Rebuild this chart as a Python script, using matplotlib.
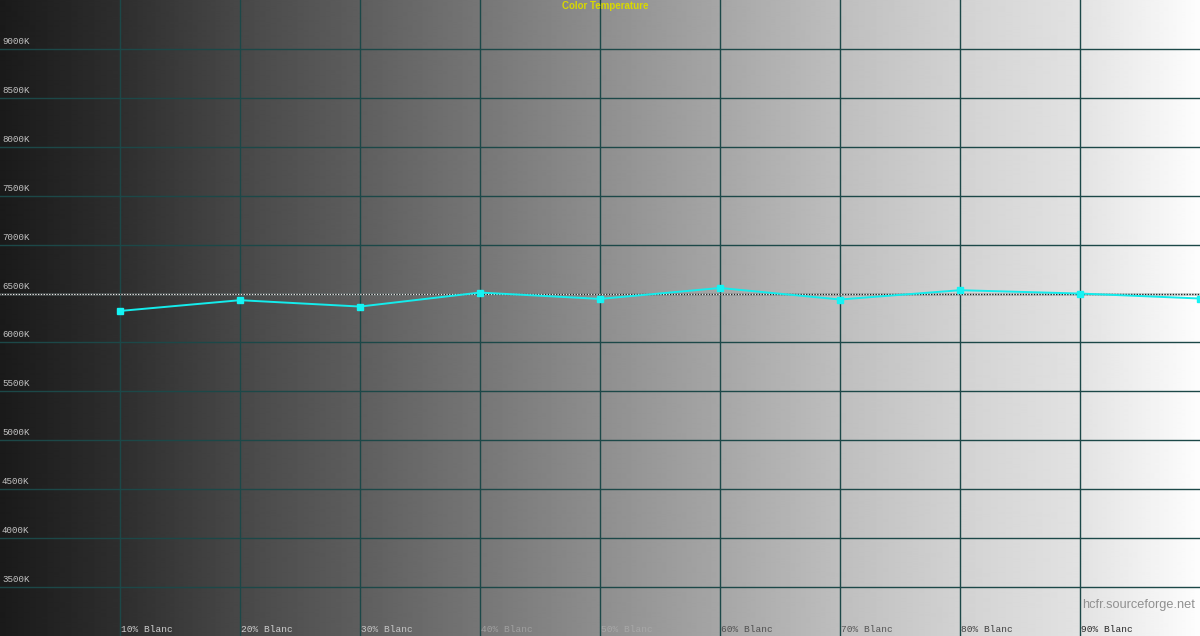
import numpy as np
import matplotlib
matplotlib.use("Agg")
import matplotlib.pyplot as plt

# Data
levels = [10, 20, 30, 40, 50, 60, 70, 80, 90, 100]
temperatures = [6322, 6432, 6367, 6510, 6445, 6557, 6439, 6534, 6500, 6449]
x_tick_labels = ["10% Blanc", "20% Blanc", "30% Blanc", "40% Blanc", "50% Blanc",
                 "60% Blanc", "70% Blanc", "80% Blanc", "90% Blanc"]
y_ticks = [3500, 4000, 4500, 5000, 5500, 6000, 6500, 7000, 7500, 8000, 8500, 9000]
reference_temp = 6500

fig = plt.figure(figsize=(12, 6.36), dpi=100)
ax = fig.add_axes([0, 0, 1, 1])
ax.set_xlim(0, 100)
ax.set_ylim(3000, 9500)
ax.set_axis_off()

# Background gradient
stops_x = np.array([0, 10, 20, 30, 40, 50, 60, 70, 80, 90, 100])
stops_v = np.array([0x1a, 0x2e, 0x48, 0x5e, 0x76, 0x8e, 0xa6, 0xbe, 0xd2, 0xe2, 0xfd]) / 255.0
xs = np.linspace(0, 100, 1200)
vals = np.interp(xs, stops_x, stops_v)
grad = np.tile(vals, (2, 1))
ax.imshow(grad, cmap="gray", vmin=0, vmax=1, aspect="auto",
          extent=[0, 100, 3000, 9500], interpolation="bilinear", zorder=0)

grid_color = "#1c4848"
for xv in range(10, 100, 10):
    ax.axvline(xv, color=grid_color, lw=1.0, zorder=1)
for yv in y_ticks:
    ax.axhline(yv, color=grid_color, lw=1.0, zorder=1)

# Reference dotted line
ax.axhline(reference_temp, color="#e8e8e8", lw=1.0, zorder=2)
ax.axhline(reference_temp, color="#202020", lw=1.0, ls=(0, (1, 1)), zorder=2)

# Data line
ax.plot(levels, temperatures, color="#14ecec", lw=1.4, marker="s",
        markersize=4.5, markerfacecolor="#14f4f4", markeredgecolor="#14f4f4", zorder=3)

# Y labels
mono = "Liberation Mono"
for yv in y_ticks:
    ax.annotate(f"{yv}K", xy=(0, yv), xytext=(2, 3), textcoords="offset pixels",
                ha="left", va="bottom", fontsize=6.6, family=mono, color="#c4c4c4", zorder=4)

# X labels
label_colors = ["#d0d0d0", "#d0d0d0", "#c8c8c8", "#a0a0a0", "#a8a8a8",
                "#505050", "#555555", "#404040", "#282828"]
for i, lab in enumerate(x_tick_labels):
    ax.annotate(lab, xy=((i + 1) * 10, 3000), xytext=(1, 2), textcoords="offset pixels",
                ha="left", va="bottom", fontsize=6.8, family=mono, color=label_colors[i], zorder=4)

# Title
fig.text(0.504, 0.9985, "Color Temperature", ha="center", va="top", fontsize=7,
         fontweight="bold", color="#d8d800", family="Liberation Sans")

# Watermark
fig.text(0.9958, 0.0495, "hcfr.sourceforge.net", ha="right", va="center", fontsize=9.2,
         color="#909090", family="Liberation Sans")

fig.savefig("out.png", dpi=100)
